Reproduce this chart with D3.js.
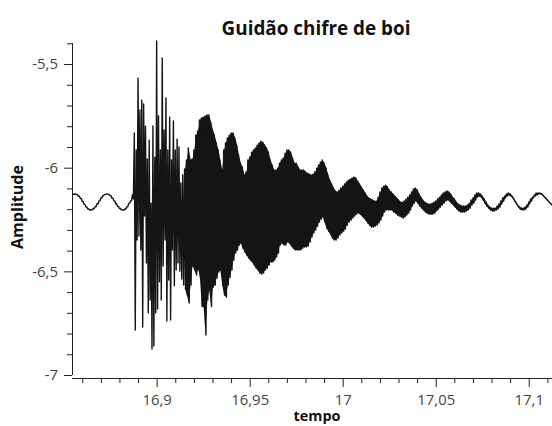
<!DOCTYPE html>
<html><head><meta charset="utf-8">
<script src="https://cdn.jsdelivr.net/npm/d3@7"></script>
<style>body{margin:0;background:#fff}svg{display:block}</style>
</head><body><svg id="c" width="552" height="426"></svg>
<script>
const title = "Guidão chifre de boi";
const xLabel = "tempo";
const yLabel = "Amplitude";
const xTickValues = [16.9, 16.95, 17, 17.05, 17.1];
const xTickLabels = ["16,9", "16,95", "17", "17,05", "17,1"];
const yTickValues = [-7, -6.5, -6, -5.5];
const yTickLabels = ["-7", "-6,5", "-6", "-5,5"];
// uniformly sampled signal: bin start time and step (s)
const tStart = 16.855;
const tStep = 0.001;
// first bin of the densely packed (solid) part of the trace
const denseFrom = 60;
// per-bin maximum of the signal
const hiVals = [
-6.128,-6.127,-6.130,-6.138,-6.149,-6.163,-6.177,-6.190,-6.199,-6.204,
-6.203,-6.197,-6.187,-6.174,-6.160,-6.146,-6.135,-6.129,-6.127,-6.129,
-6.136,-6.147,-6.160,-6.174,-6.187,-6.197,-6.203,-6.204,-6.199,-6.188,
-6.172,-6.160,-6.130,-5.833,-5.915,-5.568,-5.722,-5.674,-5.693,-5.800,
-5.958,-5.867,-6.171,-5.799,-5.950,-5.389,-5.750,-5.915,-5.471,-5.818,
-5.664,-5.915,-5.756,-5.963,-5.775,-5.915,-5.862,-5.900,-6.074,-6.035,
-6.006,-5.963,-5.905,-5.963,-5.958,-5.915,-5.843,-5.823,-5.770,-5.760,
-5.756,-5.751,-5.746,-5.746,-5.780,-5.818,-5.843,-5.881,-5.915,-5.963,
-6.011,-5.915,-5.881,-5.857,-5.843,-5.833,-5.833,-5.857,-5.891,-5.939,
-5.978,-5.997,-6.035,-6.021,-5.963,-5.949,-5.925,-5.915,-5.905,-5.891,
-5.881,-5.872,-5.877,-5.891,-5.905,-5.925,-5.963,-5.987,-6.011,-6.011,
-6.002,-5.978,-5.963,-5.953,-5.930,-5.915,-5.915,-5.925,-5.953,-5.978,
-5.978,-5.997,-6.011,-6.011,-6.011,-6.021,-6.026,-6.031,-6.035,-6.031,
-6.021,-6.002,-5.987,-5.973,-5.963,-5.978,-6.002,-6.035,-6.060,-6.079,
-6.098,-6.112,-6.117,-6.108,-6.098,-6.089,-6.079,-6.069,-6.060,-6.055,
-6.050,-6.045,-6.050,-6.065,-6.079,-6.093,-6.108,-6.122,-6.137,-6.146,
-6.151,-6.156,-6.161,-6.161,-6.142,-6.117,-6.098,-6.089,-6.084,-6.093,
-6.108,-6.117,-6.127,-6.137,-6.146,-6.156,-6.166,-6.166,-6.161,-6.151,
-6.142,-6.132,-6.117,-6.103,-6.098,-6.108,-6.127,-6.142,-6.156,-6.166,
-6.171,-6.175,-6.175,-6.171,-6.166,-6.161,-6.151,-6.142,-6.132,-6.122,
-6.117,-6.112,-6.117,-6.127,-6.142,-6.151,-6.166,-6.175,-6.180,-6.185,
-6.185,-6.185,-6.180,-6.171,-6.156,-6.146,-6.132,-6.122,-6.122,-6.127,
-6.137,-6.151,-6.166,-6.180,-6.190,-6.195,-6.195,-6.195,-6.185,-6.175,
-6.161,-6.146,-6.137,-6.127,-6.122,-6.127,-6.137,-6.151,-6.166,-6.180,
-6.190,-6.195,-6.195,-6.190,-6.180,-6.166,-6.151,-6.142,-6.132,-6.122,
-6.122,-6.122,-6.127,-6.137,-6.146,-6.156,-6.166,-6.175,-6.180
];
// per-bin minimum of the signal
const loVals = [
-6.128,-6.127,-6.130,-6.138,-6.149,-6.163,-6.177,-6.190,-6.199,-6.204,
-6.203,-6.197,-6.187,-6.174,-6.160,-6.146,-6.135,-6.129,-6.127,-6.129,
-6.136,-6.147,-6.160,-6.174,-6.187,-6.197,-6.203,-6.204,-6.199,-6.188,
-6.172,-6.160,-6.150,-6.783,-6.349,-6.330,-6.397,-6.769,-6.233,-6.460,
-6.700,-6.638,-6.875,-6.860,-6.700,-6.682,-6.550,-6.638,-6.474,-6.349,
-6.740,-6.542,-6.735,-6.397,-6.570,-6.494,-6.460,-6.500,-6.537,-6.566,
-6.585,-6.614,-6.653,-6.566,-6.474,-6.494,-6.518,-6.489,-6.528,-6.670,
-6.672,-6.807,-6.638,-6.590,-6.670,-6.576,-6.566,-6.532,-6.503,-6.494,
-6.566,-6.614,-6.624,-6.566,-6.528,-6.494,-6.446,-6.412,-6.397,-6.373,
-6.364,-6.388,-6.407,-6.421,-6.436,-6.446,-6.455,-6.470,-6.484,-6.494,
-6.508,-6.513,-6.508,-6.494,-6.484,-6.470,-6.455,-6.455,-6.446,-6.431,
-6.412,-6.373,-6.364,-6.373,-6.373,-6.359,-6.364,-6.378,-6.388,-6.397,
-6.397,-6.397,-6.397,-6.388,-6.383,-6.383,-6.378,-6.359,-6.335,-6.315,
-6.301,-6.282,-6.262,-6.248,-6.238,-6.262,-6.291,-6.306,-6.320,-6.339,
-6.349,-6.349,-6.339,-6.325,-6.315,-6.306,-6.296,-6.277,-6.262,-6.253,
-6.243,-6.233,-6.224,-6.219,-6.224,-6.233,-6.243,-6.253,-6.267,-6.277,
-6.286,-6.286,-6.282,-6.277,-6.267,-6.253,-6.233,-6.214,-6.204,-6.204,
-6.204,-6.204,-6.214,-6.219,-6.228,-6.233,-6.238,-6.243,-6.238,-6.228,
-6.219,-6.204,-6.185,-6.171,-6.161,-6.171,-6.185,-6.195,-6.204,-6.214,
-6.219,-6.224,-6.224,-6.224,-6.219,-6.209,-6.200,-6.190,-6.180,-6.171,
-6.161,-6.156,-6.161,-6.171,-6.180,-6.190,-6.200,-6.209,-6.214,-6.214,
-6.214,-6.209,-6.204,-6.195,-6.180,-6.171,-6.156,-6.142,-6.137,-6.142,
-6.156,-6.171,-6.185,-6.195,-6.204,-6.209,-6.209,-6.204,-6.200,-6.190,
-6.175,-6.161,-6.146,-6.137,-6.132,-6.137,-6.146,-6.161,-6.175,-6.190,
-6.200,-6.204,-6.204,-6.200,-6.190,-6.175,-6.161,-6.146,-6.137,-6.132,
-6.127,-6.127,-6.132,-6.142,-6.151,-6.161,-6.171,-6.180,-6.185
];

const svg = d3.select("#c");
const xScale = d3.scaleLinear().domain([16.8545, 17.1125]).range([72, 552]);
const yScale = d3.scaleLinear().domain([-7, -5.4]).range([375, 43.3]);
const font = "'Open Sans', 'Noto Sans', sans-serif";
const ink = "#151515";

// points: max then min within each bin (min/max decimation)
const pts = [];
const bins = hiVals.map((h, i) => ({ i, t: tStart + i * tStep, hi: h, lo: loVals[i] }));
bins.forEach(b => {
  pts.push([b.t, b.hi]);
  pts.push([b.t + tStep / 2, b.lo]);
});

svg.append("defs").append("clipPath").attr("id", "clip")
  .append("rect").attr("x", 72).attr("y", 0).attr("width", 480).attr("height", 376);

const plot = svg.append("g").attr("clip-path", "url(#clip)");

// solid band where the oscillation is too dense to resolve
plot.append("path")
  .datum(bins.filter(b => b.i >= denseFrom))
  .attr("fill", ink)
  .attr("d", d3.area().x(b => xScale(b.t + tStep / 4)).y0(b => yScale(b.lo)).y1(b => yScale(b.hi)));

const line = d3.line().x(d => xScale(d[0])).y(d => yScale(d[1]));
// each step drawn as its own sub-path, so that sharp zigzags render solid
const segs = d3.pairs(pts).map(p => line(p)).join("");
plot.append("path")
  .attr("fill", "none")
  .attr("stroke", ink)
  .attr("stroke-width", 1.4)
  .attr("stroke-linecap", "round")
  .attr("d", segs);

function fit(sel, target) {
  const w = sel.node().getComputedTextLength();
  const fs = parseFloat(sel.attr("font-size"));
  return fs * target / w;
}

// x axis
const xMinor = d3.range(16.86, 17.1125, 0.01).filter(v => !xTickValues.some(m => Math.abs(m - v) < 1e-6));
const gx = svg.append("g").attr("transform", "translate(0,378)");
gx.call(d3.axisBottom(xScale).tickValues(xMinor).tickSize(5).tickFormat(""));
gx.call(g => g.append("g").call(d3.axisBottom(xScale).tickValues(xTickValues).tickSizeInner(9).tickSizeOuter(0)
  .tickFormat((d, i) => xTickLabels[i])));
gx.select("g").select("path.domain").remove();
gx.selectAll("path.domain").attr("stroke", "#222").attr("d", "M72,0.5H552");
gx.selectAll(".tick line").attr("stroke", "#222");
gx.selectAll("text").attr("font-family", font).attr("font-size", 13).attr("fill", "#444").attr("dy", "1.0em");

// y axis
const yMinor = d3.range(-6.9, -5.39, 0.1).filter(v => !yTickValues.some(m => Math.abs(m - v) < 1e-6));
const gy = svg.append("g").attr("transform", "translate(72,0)");
gy.call(d3.axisLeft(yScale).tickValues(yMinor).tickSize(5).tickFormat(""));
gy.call(g => g.append("g").call(d3.axisLeft(yScale).tickValues(yTickValues).tickSizeInner(8).tickSizeOuter(0)
  .tickPadding(6).tickFormat((d, i) => yTickLabels[i])));
gy.select("g").select("path.domain").remove();
gy.selectAll("path.domain").attr("stroke", "#222").attr("d", "M0.5,375V43.3");
gy.selectAll(".tick line").attr("stroke", "#222");
gy.selectAll("text").attr("font-family", font).attr("font-size", 13).attr("fill", "#444");

// scale tick label fonts so that "16,95" is about 38 px wide
const ref = gx.selectAll("text").filter((d, i, n) => n[i].textContent === "16,95");
const tfs = fit(ref, 38);
gx.selectAll("text").attr("font-size", tfs);
gy.selectAll("text").attr("font-size", tfs);

// title & labels
const tt = svg.append("text").attr("x", 316).attr("y", 35).attr("text-anchor", "middle")
  .attr("font-family", font).attr("font-weight", "bold").attr("font-size", 15).attr("fill", "#111").text(title);
tt.attr("font-size", fit(tt, 189));
const xl = svg.append("text").attr("x", 317).attr("y", 421).attr("text-anchor", "middle")
  .attr("font-family", font).attr("font-weight", "bold").attr("font-size", 13).attr("fill", "#111").text(xLabel);
xl.attr("font-size", fit(xl, 47));
const yl = svg.append("text").attr("transform", "translate(23,207) rotate(-90)").attr("text-anchor", "middle")
  .attr("font-family", font).attr("font-weight", "bold").attr("font-size", 13).attr("fill", "#111").text(yLabel);
yl.attr("font-size", fit(yl, 84));
</script></body></html>
